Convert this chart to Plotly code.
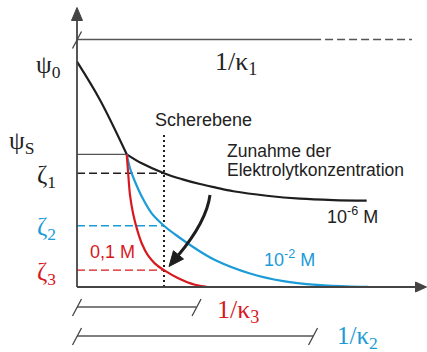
import plotly.graph_objects as go

# ---------------- data (schematic: x = distance, y = potential, mV) ----------------
psi0 = 100.0          # surface potential
psi_s = 58.9          # Stern potential
stern_x = 1.156       # end of Stern layer
shear_x = 2.023       # shear plane (Scherebene)
zeta_vals = [50.5, 27.2, 7.5]           # zeta_1, zeta_2, zeta_3
zeta_names = ["1", "2", "3"]

stern_x_pts = [0.0, 0.535, 1.156]
stern_y_pts = [100.0, 83.0, 58.9]

c6_x = [1.156, 1.505, 2.023, 2.435, 2.860, 3.209, 3.635, 4.412, 5.186, 5.960, 6.737]
c6_y = [58.9, 54.9, 50.5, 47.9, 45.7, 44.2, 42.5, 40.5, 39.2, 38.6, 38.35]

c2_x = [1.156, 1.233, 1.349, 1.505, 1.737, 2.023, 2.356, 2.744, 3.209, 4.023, 4.798, 5.574, 6.349, 6.767]
c2_y = [58.9, 52.7, 46.7, 40.2, 32.7, 27.2, 22.3, 17.2, 12.0, 6.0, 2.6, 0.9, 0.15, 0.1]

c1_x = [1.156, 1.193, 1.233, 1.302, 1.395, 1.512, 1.651, 1.814, 2.023, 2.356, 2.744, 3.016]
c1_y = [58.9, 49.7, 40.8, 32.85, 25.7, 19.1, 14.0, 10.4, 7.5, 3.9, 1.0, 0.1]

kappa1_solid, kappa1_dash = 5.49, 7.79
kappa2_len = 5.49
kappa3_len = 2.78

# ---------------- styles / layout geometry ----------------
W, H = 427, 352
PX_X, PX_Y = 43.0, 2.253          # pixels per data unit
ORIG_PX = (77.0, 287.0)           # pixel position of data origin
XR = [-ORIG_PX[0] / PX_X, (W - ORIG_PX[0]) / PX_X]
YR = [-(H - ORIG_PX[1]) / PX_Y, ORIG_PX[1] / PX_Y]

BLACK = "#1e1e1e"
AXIS = "#444444"
BLUE = "#1b9bd7"
RED = "#d7191f"
SANS = "Liberation Sans, Arial, sans-serif"
SERIF = "Liberation Serif, Times New Roman, serif"


def dx(p):
    return p / PX_X


def dy(p):
    return p / PX_Y


def px2d(px, py):
    return (px - ORIG_PX[0]) / PX_X, (ORIG_PX[1] - py) / PX_Y


fig = go.Figure()


def add_line(xs, ys, color, width=2.0, dash=None, shape="linear", smoothing=None):
    line = dict(color=color, width=width, shape=shape)
    if dash:
        line["dash"] = dash
    if smoothing is not None:
        line["smoothing"] = smoothing
    fig.add_trace(go.Scatter(x=xs, y=ys, mode="lines", line=line,
                             hoverinfo="skip", showlegend=False))


# horizontal reference lines
add_line([0, stern_x], [psi_s, psi_s], "#555555", width=1.2)
zcolors = [BLACK, BLUE, RED]
for zv, zc in zip(zeta_vals, zcolors):
    add_line([0, shear_x], [zv, zv], zc, width=1.4, dash="8px,4px")

# shear plane (dotted)
add_line([shear_x, shear_x], [0, 67.5], BLACK, width=2, dash="2px,3px")

# curves
add_line(stern_x_pts, stern_y_pts, BLACK, width=2.2, shape="spline", smoothing=1.0)
add_line(c6_x, c6_y, BLACK, width=2.2, shape="spline", smoothing=1.0)
add_line(c2_x, c2_y, BLUE, width=2.2, shape="spline", smoothing=1.0)
add_line(c1_x, c1_y, RED, width=2.2, shape="spline", smoothing=1.0)

# axes
y_tip = px2d(77.5, 7.5)[1]
x_tip = px2d(426.5, 287)[0]
add_line([0, 0], [0, y_tip - dy(12)], AXIS, width=1.8)
add_line([0, x_tip - dx(10)], [0, 0], AXIS, width=1.8)

shapes = []


def tri(tip_x, tip_y, ux, uy, length, half):
    # ux, uy: direction in pixel space (y down)
    bx_px = -ux * length
    by_px = -uy * length
    px_, py_ = uy, -ux
    pts = [(tip_x, tip_y),
           (tip_x + dx(bx_px + px_ * half), tip_y - dy(by_px + py_ * half)),
           (tip_x + dx(bx_px - px_ * half), tip_y - dy(by_px - py_ * half))]
    path = "M {} {} L {} {} L {} {} Z".format(*[v for p in pts for v in p])
    return dict(type="path", path=path, xref="x", yref="y",
                fillcolor=AXIS, line=dict(color=AXIS, width=1))


shapes.append(tri(0, y_tip, 0, -1, 13, 5.5))
shapes.append(tri(x_tip, 0, 1, 0, 11, 5))

# kappa bars
k1_y = px2d(0, 39.5)[1]
k3_y = px2d(0, 307)[1]
k2_y = px2d(0, 336)[1]
add_line([0, kappa1_solid], [k1_y, k1_y], "#555555", width=1.3)
add_line([kappa1_solid, kappa1_dash], [k1_y, k1_y], "#555555", width=1.3, dash="8px,4px")
add_line([0, kappa3_len], [k3_y, k3_y], "#555555", width=1.3)
add_line([0, kappa2_len], [k2_y, k2_y], "#555555", width=1.3)


def slash(x, y):
    add_line([x - dx(4.5), x + dx(4.5)], [y - dy(9), y + dy(8)], "#444444", width=1.3)


slash(0, k1_y)
slash(0, k3_y)
slash(kappa3_len, k3_y)
slash(0, k2_y)
slash(kappa2_len, k2_y)

# curved arrow (Zunahme der Elektrolytkonzentration)
p0 = px2d(210, 195)
c1p = px2d(207, 218)
c2p = px2d(191, 240)
p3 = px2d(178.5, 255)
shapes.append(dict(type="path", xref="x", yref="y",
                   path="M {} {} C {} {} {} {} {} {}".format(*p0, *c1p, *c2p, *p3),
                   line=dict(color=BLACK, width=3)))
tip = px2d(169, 266.5)
ah = tri(tip[0], tip[1], -0.633, 0.774, 15, 6.5)
ah["fillcolor"] = BLACK
ah["line"] = dict(color=BLACK, width=1)
shapes.append(ah)

annotations = []


def label(x, y, text, size, color, family, xanchor="center"):
    annotations.append(dict(x=x, y=y, xref="x", yref="y", text=text, showarrow=False,
                            xanchor=xanchor, yanchor="middle",
                            font=dict(size=size, color=color, family=family)))


# Greek labels
label(px2d(48, 0)[0], psi0 - dy(5), "ψ<sub>0</sub>", 25, "#222222", SERIF)
label(px2d(21, 0)[0], psi_s + dy(12), "ψ<sub>S</sub>", 25, "#222222", SERIF)
for zv, zn, zc in zip(zeta_vals, zeta_names, zcolors):
    label(px2d(46, 0)[0], zv - dy(3), "ζ<sub>" + zn + "</sub>", 25, zc, SERIF)

# kappa labels
label(px2d(213, 0)[0], px2d(0, 63)[1], "1/κ<sub>1</sub>", 26, "#222222", SERIF, "left")
label(px2d(215, 0)[0], px2d(0, 311)[1], "1/κ<sub>3</sub>", 26, RED, SERIF, "left")
label(px2d(335, 0)[0], px2d(0, 337)[1], "1/κ<sub>2</sub>", 25, BLUE, SERIF, "left")

# text labels
label(px2d(153, 0)[0], px2d(0, 120)[1], "Scherebene", 18, "#222222", SANS, "left")
label(px2d(225, 0)[0], px2d(0, 151)[1], "Zunahme der", 17.5, "#222222", SANS, "left")
label(px2d(225, 0)[0], px2d(0, 170)[1], "Elektrolytkonzentration", 17.5, "#222222", SANS, "left")
label(px2d(325, 0)[0], px2d(0, 215)[1], "10<sup>-6</sup> M", 18, "#222222", SANS, "left")
label(px2d(262, 0)[0], px2d(0, 258)[1], "10<sup>-2</sup> M", 18, BLUE, SANS, "left")
label(px2d(88, 0)[0], px2d(0, 252)[1], "0,1 M", 18, RED, SANS, "left")

fig.update_layout(
    width=W, height=H,
    margin=dict(l=0, r=0, t=0, b=0),
    paper_bgcolor="white", plot_bgcolor="white",
    xaxis=dict(range=XR, visible=False, fixedrange=True),
    yaxis=dict(range=YR, visible=False, fixedrange=True),
    shapes=shapes, annotations=annotations, showlegend=False,
)

fig.write_html("out.html")
